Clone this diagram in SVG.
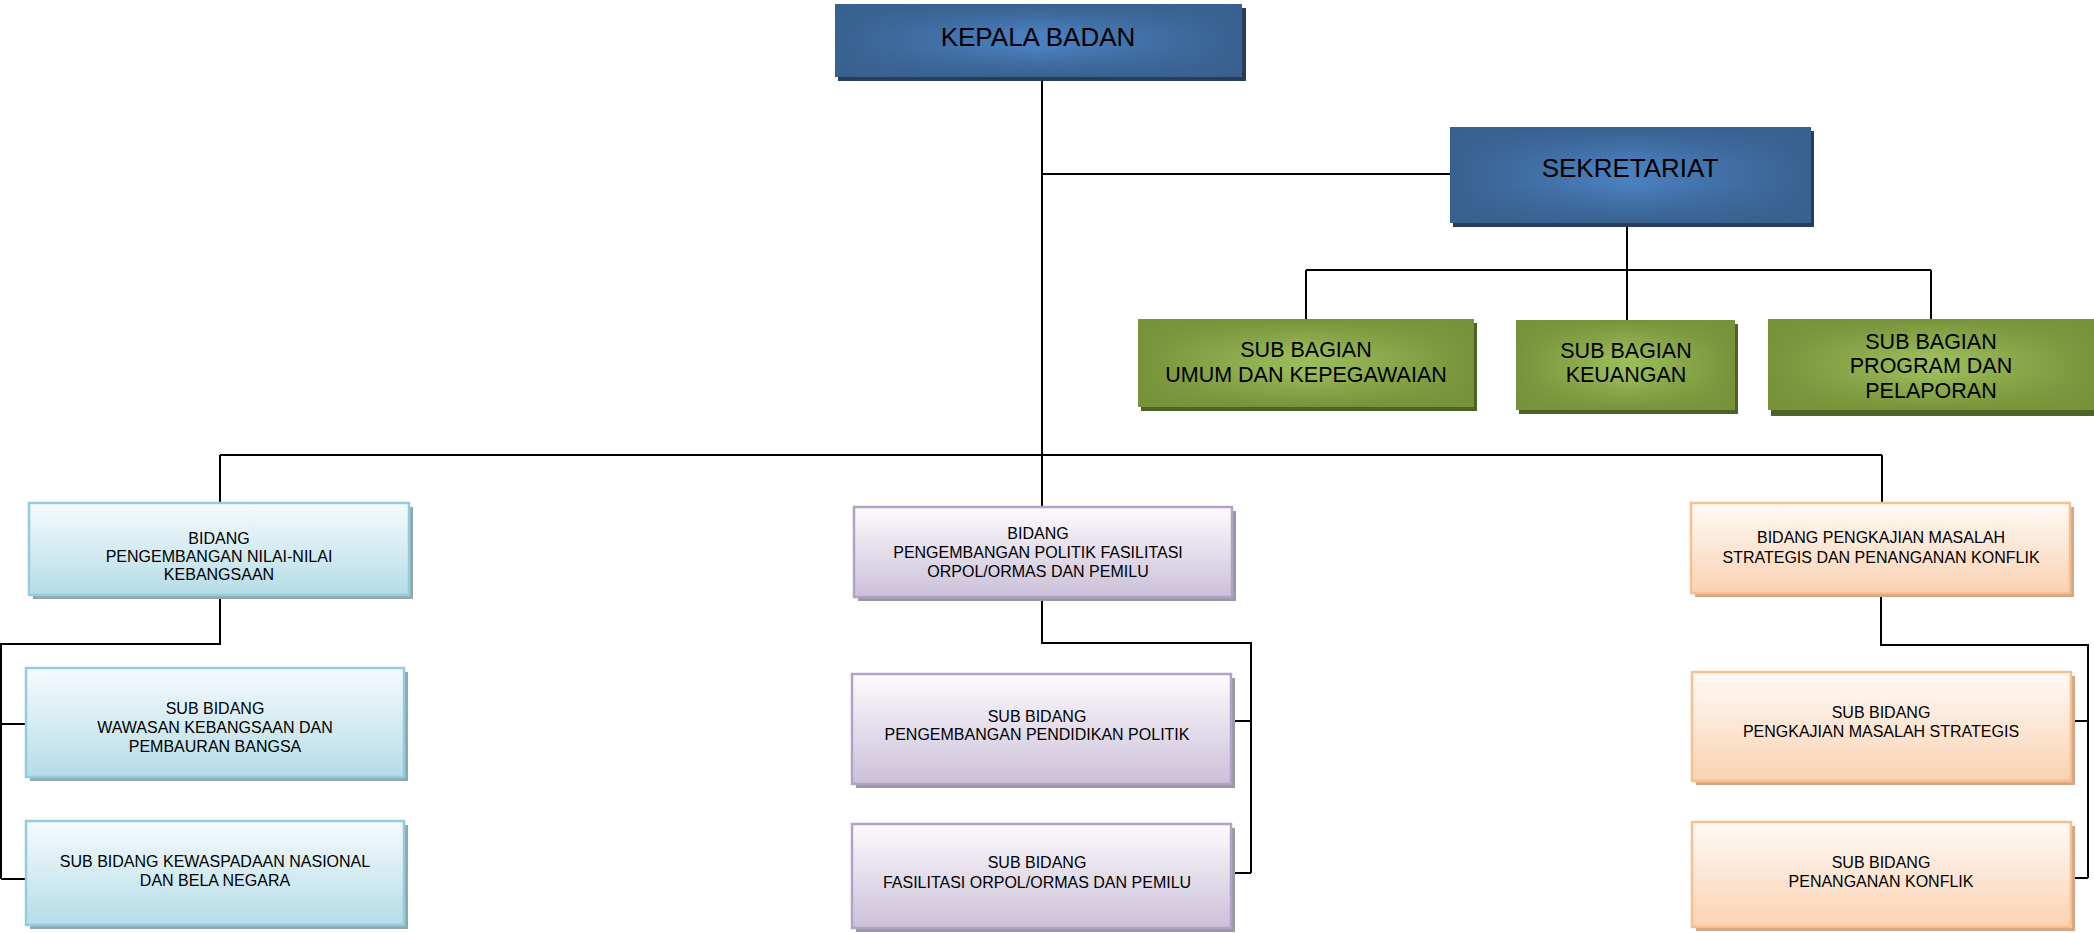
<svg xmlns="http://www.w3.org/2000/svg" width="2094" height="933" viewBox="0 0 2094 933">
<defs>
<linearGradient id="blueH" x1="0" y1="0" x2="1" y2="0"><stop offset="0" stop-color="#38618f"/><stop offset="0.5" stop-color="#4b80c0"/><stop offset="1" stop-color="#38618f"/></linearGradient>
<linearGradient id="blueV" x1="0" y1="0" x2="0" y2="1"><stop offset="0" stop-color="#38618f" stop-opacity="1"/><stop offset="0.4" stop-color="#38618f" stop-opacity="0"/><stop offset="0.6" stop-color="#38618f" stop-opacity="0"/><stop offset="1" stop-color="#38618f" stop-opacity="1"/></linearGradient>
<linearGradient id="greenH" x1="0" y1="0" x2="1" y2="0"><stop offset="0" stop-color="#77933a"/><stop offset="0.5" stop-color="#9dbd5b"/><stop offset="1" stop-color="#77933a"/></linearGradient>
<linearGradient id="greenV" x1="0" y1="0" x2="0" y2="1"><stop offset="0" stop-color="#77933a" stop-opacity="1"/><stop offset="0.4" stop-color="#77933a" stop-opacity="0"/><stop offset="0.6" stop-color="#77933a" stop-opacity="0"/><stop offset="1" stop-color="#77933a" stop-opacity="1"/></linearGradient>
<linearGradient id="lblue" x1="0" y1="0" x2="0" y2="1"><stop offset="0" stop-color="#f6fbfd"/><stop offset="1" stop-color="#b5dce7"/></linearGradient>
<linearGradient id="purple" x1="0" y1="0" x2="0" y2="1"><stop offset="0" stop-color="#fcfbfd"/><stop offset="1" stop-color="#cbc0d9"/></linearGradient>
<linearGradient id="orange" x1="0" y1="0" x2="0" y2="1"><stop offset="0" stop-color="#fffaf6"/><stop offset="1" stop-color="#fad2b2"/></linearGradient>
<style>
.t{font-family:"Liberation Sans",Arial,sans-serif;fill:#000;text-anchor:middle}
.big{font-size:26px}
.mid{font-size:21.5px}
.sm{font-size:16px}
.conn{stroke:#000;stroke-width:2;fill:none}
.shB{fill:#263d5c}
.shG{fill:#4f6228}
.lb{fill:url(#lblue);stroke:#93cddd;stroke-width:2.5}
.shLb{fill:#8fa8b0}
.pu{fill:url(#purple);stroke:#b3a2c7;stroke-width:2.5}
.shPu{fill:#9d97a4}
.or{fill:url(#orange);stroke:#f9be8e;stroke-width:2.5}
.shOr{fill:#d2a786}
</style>
</defs>
<rect width="2094" height="933" fill="#fff"/>

<g id="connectors">
<path class="conn" d="M1042 77V507"/>
<path class="conn" d="M1042 174H1450"/>
<path class="conn" d="M1627 223V270M1306 270H1931M1306 270V319M1627 270V320M1931 270V319"/>
<path class="conn" d="M220 455H1882M220 455V503M1882 455V503"/>
<path class="conn" d="M220 596V644H1V879M1 724H26M1 879H26"/>
<path class="conn" d="M1042 598V643H1251V873M1231 721H1251M1231 873H1251"/>
<path class="conn" d="M1881 594V645H2088V878M2071 721H2088M2071 878H2088"/>
</g>

<g id="kepala-badan">
<rect class="shB" x="838" y="8" width="408" height="73"/>
<rect x="835" y="4" width="407" height="73" fill="url(#blueH)"/>
<rect x="835" y="4" width="407" height="73" fill="url(#blueV)"/>
<text class="t big" x="1038" y="46">KEPALA BADAN</text>
</g>

<g id="sekretariat">
<rect class="shB" x="1453" y="131" width="361" height="96"/>
<rect x="1450" y="127" width="361" height="96" fill="url(#blueH)"/>
<rect x="1450" y="127" width="361" height="96" fill="url(#blueV)"/>
<text class="t big" x="1630" y="177">SEKRETARIAT</text>
</g>

<g id="sub-bagian-umum">
<rect class="shG" x="1141" y="323" width="336" height="88"/>
<rect x="1138" y="319" width="336" height="88" fill="url(#greenH)"/>
<rect x="1138" y="319" width="336" height="88" fill="url(#greenV)"/>
<text class="t mid" x="1306" y="357">SUB BAGIAN</text>
<text class="t mid" x="1306" y="382">UMUM DAN KEPEGAWAIAN</text>
</g>

<g id="sub-bagian-keuangan">
<rect class="shG" x="1519" y="324" width="219" height="90"/>
<rect x="1516" y="320" width="219" height="90" fill="url(#greenH)"/>
<rect x="1516" y="320" width="219" height="90" fill="url(#greenV)"/>
<text class="t mid" x="1626" y="358">SUB BAGIAN</text>
<text class="t mid" x="1626" y="382">KEUANGAN</text>
</g>

<g id="sub-bagian-program">
<rect class="shG" x="1771" y="325" width="330" height="91"/>
<rect x="1768" y="319" width="330" height="91" fill="url(#greenH)"/>
<rect x="1768" y="319" width="330" height="91" fill="url(#greenV)"/>
<text class="t mid" x="1931" y="348.5">SUB BAGIAN</text>
<text class="t mid" x="1931" y="373">PROGRAM DAN</text>
<text class="t mid" x="1931" y="397.5">PELAPORAN</text>
</g>

<g id="bidang-nilai">
<rect class="shLb" x="33" y="507" width="380" height="92"/>
<rect class="lb" x="29" y="503" width="380" height="92"/>
<text class="t sm" x="219" y="544">BIDANG</text>
<text class="t sm" x="219" y="562">PENGEMBANGAN NILAI-NILAI</text>
<text class="t sm" x="219" y="580">KEBANGSAAN</text>
</g>

<g id="bidang-politik">
<rect class="shPu" x="858" y="511" width="378" height="90"/>
<rect class="pu" x="854" y="507" width="378" height="90"/>
<text class="t sm" x="1038" y="539">BIDANG</text>
<text class="t sm" x="1038" y="558">PENGEMBANGAN POLITIK FASILITASI</text>
<text class="t sm" x="1038" y="577">ORPOL/ORMAS DAN PEMILU</text>
</g>

<g id="bidang-pengkajian">
<rect class="shOr" x="1695" y="507" width="379" height="90"/>
<rect class="or" x="1691" y="503" width="379" height="90"/>
<text class="t sm" x="1881" y="543">BIDANG PENGKAJIAN MASALAH</text>
<text class="t sm" x="1881" y="563">STRATEGIS DAN PENANGANAN KONFLIK</text>
</g>

<g id="sub-bidang-wawasan">
<rect class="shLb" x="30" y="672" width="378" height="109"/>
<rect class="lb" x="26" y="668" width="378" height="109"/>
<text class="t sm" x="215" y="714">SUB BIDANG</text>
<text class="t sm" x="215" y="733">WAWASAN KEBANGSAAN DAN</text>
<text class="t sm" x="215" y="752">PEMBAURAN BANGSA</text>
</g>

<g id="sub-bidang-kewaspadaan">
<rect class="shLb" x="30" y="825" width="378" height="104"/>
<rect class="lb" x="26" y="821" width="378" height="104"/>
<text class="t sm" x="215" y="867">SUB BIDANG KEWASPADAAN NASIONAL</text>
<text class="t sm" x="215" y="886">DAN BELA NEGARA</text>
</g>

<g id="sub-bidang-pendidikan">
<rect class="shPu" x="856" y="678" width="379" height="110"/>
<rect class="pu" x="852" y="674" width="379" height="110"/>
<text class="t sm" x="1037" y="722">SUB BIDANG</text>
<text class="t sm" x="1037" y="740">PENGEMBANGAN PENDIDIKAN POLITIK</text>
</g>

<g id="sub-bidang-fasilitasi">
<rect class="shPu" x="856" y="828" width="379" height="104"/>
<rect class="pu" x="852" y="824" width="379" height="104"/>
<text class="t sm" x="1037" y="868">SUB BIDANG</text>
<text class="t sm" x="1037" y="888">FASILITASI ORPOL/ORMAS DAN PEMILU</text>
</g>

<g id="sub-bidang-strategis">
<rect class="shOr" x="1696" y="676" width="379" height="109"/>
<rect class="or" x="1692" y="672" width="379" height="109"/>
<text class="t sm" x="1881" y="718">SUB BIDANG</text>
<text class="t sm" x="1881" y="737">PENGKAJIAN MASALAH STRATEGIS</text>
</g>

<g id="sub-bidang-konflik">
<rect class="shOr" x="1696" y="826" width="379" height="105"/>
<rect class="or" x="1692" y="822" width="379" height="105"/>
<text class="t sm" x="1881" y="868">SUB BIDANG</text>
<text class="t sm" x="1881" y="887">PENANGANAN KONFLIK</text>
</g>
</svg>
